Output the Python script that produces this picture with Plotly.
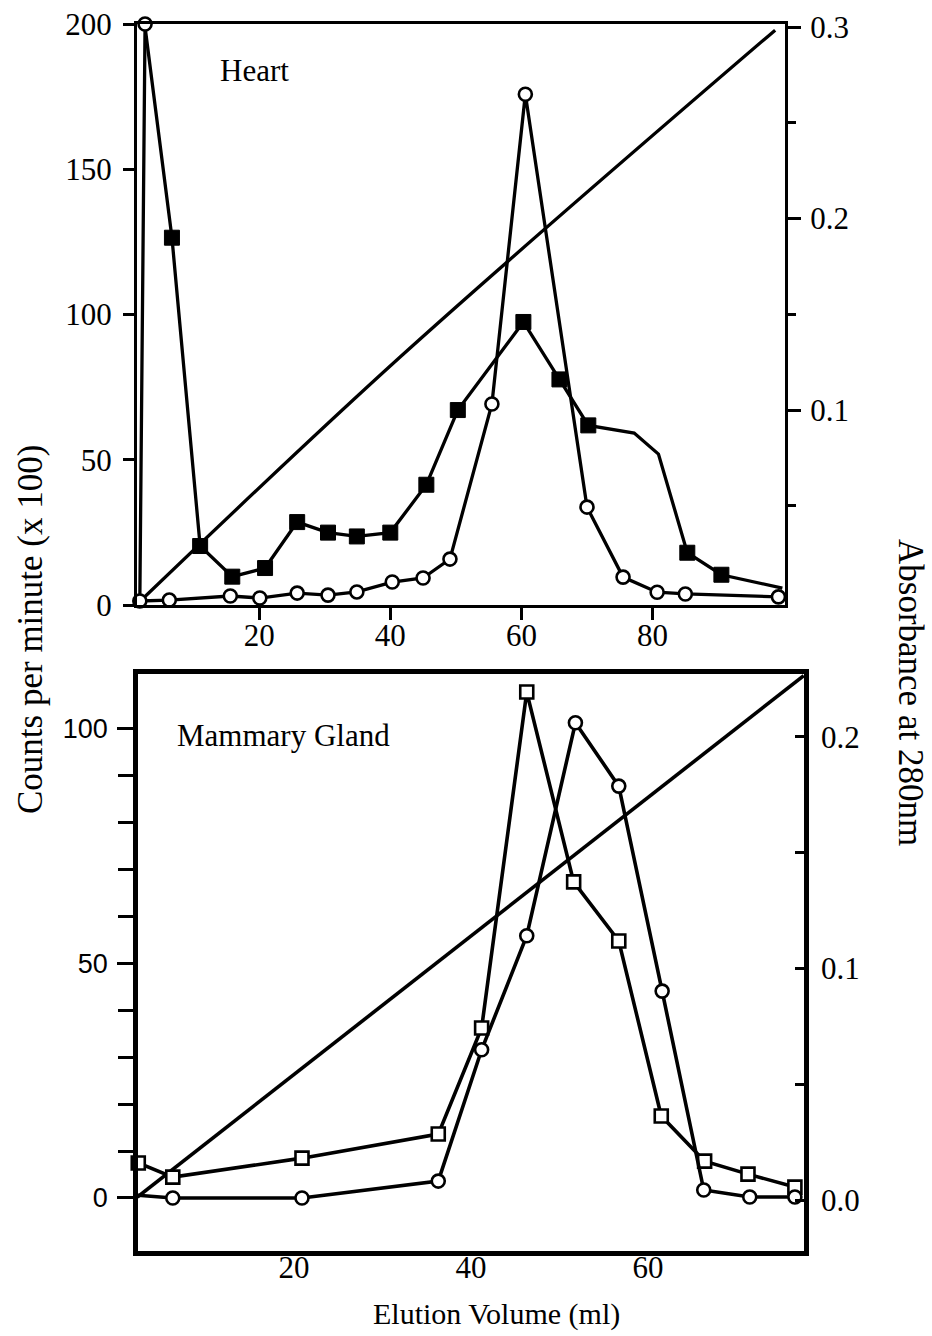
import plotly.graph_objects as go

W, H = 932, 1336

# ---------------- data: Heart (top panel) ----------------
heart_cpm_x = [2.6, 1.8, 6.3, 15.6, 20.1, 25.8, 30.5, 34.9, 40.3, 45.0, 49.1, 55.5, 60.6, 70.0, 75.5, 80.7, 85.0, 99.2]
heart_cpm_y = [200, 1.4, 1.7, 3.1, 2.4, 4.1, 3.4, 4.5, 7.9, 9.3, 15.8, 69.2, 175.8, 33.7, 9.6, 4.4, 3.8, 2.8]

heart_abs_x = [2.6, 6.7, 11.0, 15.9, 20.9, 25.8, 30.5, 34.9, 40.0, 45.5, 50.3, 60.3, 65.8, 70.2, 77.2, 80.9, 85.3, 90.5, 99.8]
heart_abs_y = [0.300, 0.190, 0.029, 0.013, 0.0175, 0.0415, 0.036, 0.034, 0.036, 0.061, 0.100, 0.146, 0.116, 0.092, 0.088, 0.077, 0.0255, 0.014, 0.007]
heart_abs_unmarked = [0, 14, 15, 18]   # vertices of the curve without a symbol

heart_grad_x = [1.8, 41.5, 98.7]
heart_grad_y = [0.0, 0.1277, 0.2984]

# ---------------- data: Mammary Gland (bottom panel) ----------------
mam_cpm_x = [2.3, 6.3, 20.9, 36.3, 41.2, 46.3, 51.8, 56.7, 61.6, 66.3, 71.5, 76.6]
mam_cpm_y = [0.6, 0.0, 0.0, 3.6, 31.6, 55.9, 101.3, 87.8, 44.1, 1.7, 0.2, 0.2]

mam_abs_x = [2.4, 6.3, 20.9, 36.3, 41.2, 46.3, 51.6, 56.7, 61.5, 66.4, 71.3, 76.6]
mam_abs_y = [0.016, 0.0099, 0.0181, 0.0285, 0.0743, 0.2194, 0.1374, 0.1119, 0.0363, 0.0168, 0.0112, 0.0056]

mam_grad_x = [2.3, 77.6]
mam_grad_y = [0.0013, 0.2265]

# tick labels
top_x_ticks = [20, 40, 60, 80]
top_cpm_ticks = [0, 50, 100, 150, 200]
top_abs_ticks = [0.1, 0.2, 0.3]
top_abs_minor = [0.05, 0.15, 0.25]
bot_x_ticks = [20, 40, 60]
bot_cpm_ticks = [0, 50, 100]
bot_cpm_minor = [10, 20, 30, 40, 60, 70, 80, 90]
bot_abs_ticks = [0.0, 0.1, 0.2]
bot_abs_minor = [0.05, 0.15]

SERIF = "Liberation Serif"
SANS = "Liberation Sans"


def px(x):
    return x / W


def py(y):
    return 1 - y / H


fig = go.Figure()

# ---- top panel ----
fig.add_trace(go.Scatter(x=heart_grad_x, y=heart_grad_y, xaxis="x", yaxis="y",
                         mode="lines", line=dict(color="black", width=3.3, shape="spline"),
                         cliponaxis=False))
sq_sizes = [0 if i in heart_abs_unmarked else 15 for i in range(len(heart_abs_x))]
fig.add_trace(go.Scatter(x=heart_abs_x, y=heart_abs_y, xaxis="x", yaxis="y",
                         mode="lines+markers", line=dict(color="black", width=3.3),
                         marker=dict(symbol="square", size=sq_sizes, color="#000000", opacity=1,
                                     line=dict(color="#000000", width=1)), cliponaxis=False))
fig.add_trace(go.Scatter(x=heart_cpm_x, y=heart_cpm_y, xaxis="x", yaxis="y2",
                         mode="lines+markers", line=dict(color="black", width=3.3),
                         marker=dict(symbol="circle", size=13, color="white",
                                     line=dict(color="black", width=2.6)), cliponaxis=False))

# ---- bottom panel ----
fig.add_trace(go.Scatter(x=mam_grad_x, y=mam_grad_y, xaxis="x2", yaxis="y3",
                         mode="lines", line=dict(color="black", width=3.6), cliponaxis=False))
fig.add_trace(go.Scatter(x=mam_abs_x, y=mam_abs_y, xaxis="x2", yaxis="y3",
                         mode="lines+markers", line=dict(color="black", width=3.6),
                         marker=dict(symbol="square", size=13, color="white",
                                     line=dict(color="black", width=2.6)), cliponaxis=False))
fig.add_trace(go.Scatter(x=mam_cpm_x, y=mam_cpm_y, xaxis="x2", yaxis="y4",
                         mode="lines+markers", line=dict(color="black", width=3.6),
                         marker=dict(symbol="circle", size=13, color="white",
                                     line=dict(color="black", width=2.6)), cliponaxis=False))

top_xdom = [px(137), px(785)]
top_ydom = [py(605), py(24)]
bot_xdom = [px(138), px(804)]
bot_ydom = [py(1251), py(674)]

tick_serif = dict(family=SERIF, size=31, color="black")

fig.update_layout(
    width=W, height=H, margin=dict(l=0, r=0, t=0, b=0, pad=0, autoexpand=False),
    paper_bgcolor="white", plot_bgcolor="rgba(0,0,0,0)", showlegend=False,
    xaxis=dict(domain=top_xdom, anchor="y", range=[1.37, 100.2], automargin=False,
               showgrid=False, zeroline=False, showline=True, linecolor="black", linewidth=3,
               mirror=True, ticks="outside", ticklen=12, tickwidth=2.5, tickcolor="black",
               tickvals=top_x_ticks, tickfont=tick_serif, ticklabelstandoff=-11),
    yaxis=dict(domain=top_ydom, anchor="x", side="right", range=[-0.0018, 0.3016], automargin=False,
               showgrid=False, zeroline=False, showline=True, linecolor="black", linewidth=3,
               ticks="outside", ticklen=13, tickwidth=2.5, tickcolor="black",
               tickvals=top_abs_ticks, ticktext=[f"{v:.1f}" for v in top_abs_ticks],
               tickfont=tick_serif, ticklabelstandoff=3,
               minor=dict(tickvals=top_abs_minor, ticks="outside", ticklen=8,
                          tickwidth=2.5, tickcolor="black", showgrid=False)),
    yaxis2=dict(domain=top_ydom, anchor="x", overlaying="y", side="left", range=[0, 200],
                automargin=False,
                showgrid=False, zeroline=False, showline=True, linecolor="black", linewidth=3,
                ticks="outside", ticklen=11, tickwidth=2.5, tickcolor="black",
                tickvals=top_cpm_ticks, tickfont=tick_serif, ticklabelstandoff=5),
    xaxis2=dict(domain=bot_xdom, anchor="y3", range=[2.37, 77.63], automargin=False,
                showgrid=False, zeroline=False, showline=True, linecolor="black", linewidth=4.5,
                mirror=True, ticks="", tickvals=bot_x_ticks, tickfont=tick_serif,
                ticklabelstandoff=-15),
    yaxis3=dict(domain=bot_ydom, anchor="x2", side="right", range=[-0.022, 0.2272], automargin=False,
                showgrid=False, zeroline=False, showline=True, linecolor="black", linewidth=4.5,
                ticks="inside", ticklen=9, tickwidth=3, tickcolor="black",
                tickvals=bot_abs_ticks, ticktext=[f"{v:.1f}" for v in bot_abs_ticks],
                tickfont=tick_serif, ticklabelstandoff=6,
                minor=dict(tickvals=bot_abs_minor, ticks="inside", ticklen=9,
                           tickwidth=3, tickcolor="black", showgrid=False)),
    yaxis4=dict(domain=bot_ydom, anchor="x2", overlaying="y3", side="left", range=[-11.3, 111.7],
                automargin=False,
                showgrid=False, zeroline=False, showline=True, linecolor="black", linewidth=4.5,
                ticks="outside", ticklen=16, tickwidth=3, tickcolor="black",
                tickvals=bot_cpm_ticks, tickfont=dict(family=SANS, size=27, color="black"),
                ticklabelstandoff=4,
                minor=dict(tickvals=bot_cpm_minor, ticks="outside", ticklen=15,
                           tickwidth=3, tickcolor="black", showgrid=False)),
)

ann_font = dict(family=SERIF, size=31, color="black")
fig.add_annotation(text="Heart", xref="paper", yref="paper", x=px(218), y=py(70),
                   xanchor="left", yanchor="middle", showarrow=False, font=ann_font)
fig.add_annotation(text="Mammary Gland", xref="paper", yref="paper", x=px(175), y=py(735),
                   xanchor="left", yanchor="middle", showarrow=False, font=ann_font)
fig.add_annotation(text="Elution Volume (ml)", xref="paper", yref="paper", x=px(497), y=py(1314),
                   xanchor="center", yanchor="middle", showarrow=False,
                   font=dict(family=SERIF, size=30, color="black"))
fig.add_annotation(text="Counts per minute (x 100)", xref="paper", yref="paper", x=px(30), y=py(630),
                   xanchor="center", yanchor="middle", textangle=-90, showarrow=False,
                   font=dict(family=SERIF, size=35, color="black"))
fig.add_annotation(text="Absorbance at 280nm", xref="paper", yref="paper", x=px(911), y=py(692),
                   xanchor="center", yanchor="middle", textangle=90, showarrow=False,
                   font=dict(family=SERIF, size=35, color="black"))

fig.write_html("out.html")
